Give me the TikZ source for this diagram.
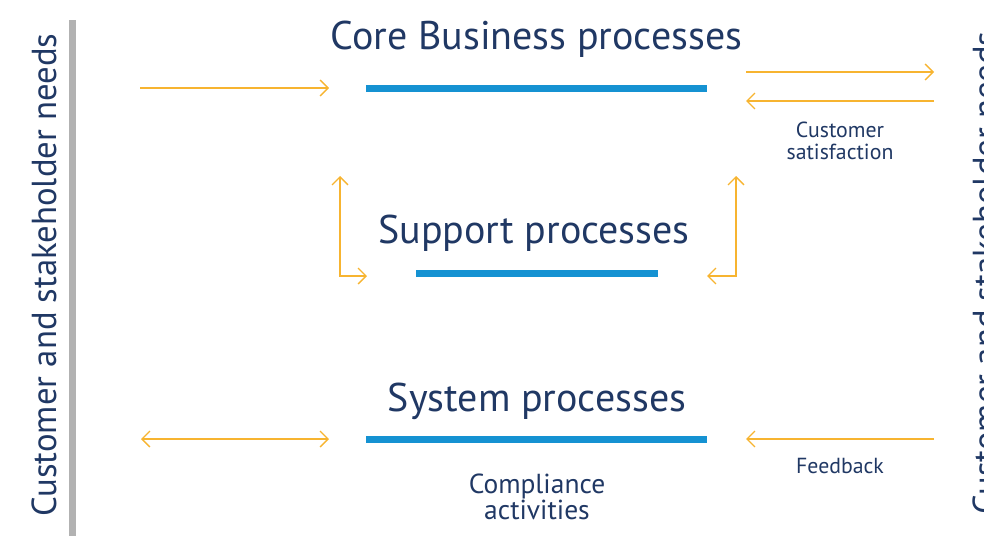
\documentclass[tikz,border=0pt]{standalone}
\usepackage{fontspec}
\setmainfont{PT Sans}
\usetikzlibrary{arrows.meta, positioning}
\definecolor{navy}{RGB}{32,56,100}
\definecolor{barblue}{RGB}{21,146,210}
\definecolor{amber}{RGB}{247,180,48}
\definecolor{rail}{RGB}{178,178,178}

\begin{document}
\begin{tikzpicture}[x=1pt, y=-1pt,
        flow/.style={amber, line width=1.3pt, -{Straight Barb[length=8pt, width=16pt]}},
        both/.style={flow, {Straight Barb[length=8pt, width=16pt]}-{Straight Barb[length=8pt, width=16pt]}},
        bar/.style={fill=barblue, minimum height=7pt, inner sep=0pt},
        heading/.style={navy, anchor=base, font=\fontsize{40}{42}\selectfont},
        side/.style={navy, anchor=base, rotate=90, font=\fontsize{34.7}{36}\selectfont},
        note/.style={navy, align=center, font=\fontsize{21.8}{22}\selectfont}]
        \useasboundingbox (0,0) rectangle (984,536);
        \clip (0,0) rectangle (984,536);

        % side labels and rail
        \node[side] (needsL) at (56,275) {Customer and stakeholder needs};
        \node[side] (needsR) at (997,273) {Customer and stakeholder needs};
        \fill[rail] (69,20) rectangle (76,536);

        % three levels
        \node[heading] (core) at (536.5,49) {Core Business processes};
        \node[bar, minimum width=341pt] (corebar) at (536.5,88) {};
        \node[heading] (support) at (534,243) {Support processes};
        \node[bar, minimum width=242pt] (supbar) at (537,273) {};
        \node[heading] (system) at (537,411) {System processes};
        \node[bar, minimum width=341pt] (sysbar) at (536.5,439) {};

        \node[note] (satisf) at (840,141) {Customer\\satisfaction};
        \node[note, font=\fontsize{27.5}{26}\selectfont] (comply) at (537,497) {Compliance\\activities};
        \node[note] (feedb) at (840,466) {Feedback};

        % arrow ends
        \coordinate (inA) at (140,88);
        \coordinate (inB) at (329,88);
        \coordinate (outA) at (746,72);
        \coordinate (outB) at (934,72);
        \coordinate (backA) at (934,101);
        \coordinate (backB) at (746,101);
        \coordinate (upL) at (340,176);
        \coordinate (cornL) at (340,276);
        \coordinate (endL) at (367,276);
        \coordinate (upR) at (736,176);
        \coordinate (cornR) at (736,276);
        \coordinate (endR) at (707,276);
        \coordinate (sysA) at (141,439);
        \coordinate (sysB) at (329,439);
        \coordinate (fbA) at (934,439);
        \coordinate (fbB) at (746,439);

        \draw[flow] (inA) -- (inB);
        \draw[flow] (outA) -- (outB);
        \draw[flow] (backA) -- (backB);
        \draw[both] (upL) -- (cornL) -- (endL);
        \draw[both] (upR) -- (cornR) -- (endR);
        \draw[both] (sysA) -- (sysB);
        \draw[flow] (fbA) -- (fbB);
    \end{tikzpicture}
\end{document}
